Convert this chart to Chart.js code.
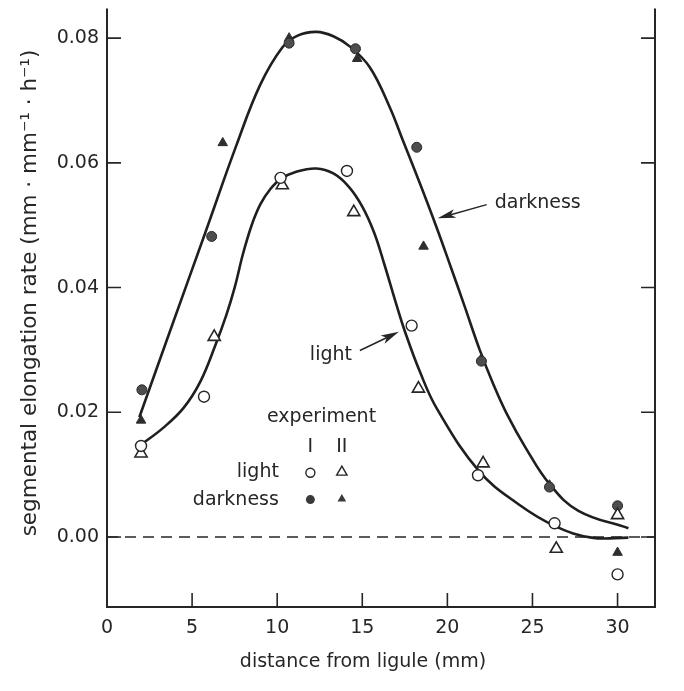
<!DOCTYPE html>
<html>
<head>
<meta charset="utf-8">
<script src="https://cdn.jsdelivr.net/npm/chart.js@4.4.0/dist/chart.umd.min.js"></script>
<style>
  html, body { margin: 0; padding: 0; background: #fff; }
</style>
</head>
<body>
<canvas id="elongation" width="684" height="691"></canvas>
<script>
var xTicks = [0, 5, 10, 15, 20, 25, 30]
var yTicks = [0, 0.02, 0.04, 0.06, 0.08]
var yTickLabels = ["0.00", "0.02", "0.04", "0.06", "0.08"]

// experiment I, light (open circles)
var lightIX = [2.0, 5.7, 10.2, 14.1, 17.9, 21.8, 26.3, 30.0]
var lightIY = [0.0146, 0.0225, 0.0576, 0.0587, 0.0339, 0.0099, 0.0022, -0.0060]
// experiment II, light (open triangles)
var lightIIX = [2.0, 6.3, 10.3, 14.5, 18.3, 22.1, 26.4, 30.0]
var lightIIY = [0.0134, 0.0321, 0.0564, 0.0521, 0.0238, 0.0118, -0.0019, 0.0035]
// experiment I, darkness (filled circles)
var darkIX = [2.05, 6.15, 10.7, 14.6, 18.2, 22.0, 26.0, 30.0]
var darkIY = [0.0236, 0.0482, 0.0792, 0.0783, 0.0625, 0.0282, 0.0080, 0.0050]
// experiment II, darkness (filled triangles)
var darkIIX = [2.0, 6.8, 10.7, 14.7, 18.6, 22.0, 26.0, 30.0]
var darkIIY = [0.0187, 0.0632, 0.0800, 0.0767, 0.0466, 0.0286, 0.0083, -0.0025]

// hand drawn curves
var darkCurveX = [1.9, 3.7, 5.8, 7.6, 9.0, 10.3, 11.2, 12.3, 13.3, 14.3, 15.45, 16.6, 17.4, 18.4, 19.4, 20.2, 21.0, 21.9, 22.7, 23.5, 24.6, 26.0, 27.7, 30.64]
var darkCurveY = [0.0192, 0.0330, 0.0490, 0.0628, 0.0725, 0.0785, 0.0804, 0.0810, 0.0803, 0.0786, 0.0753, 0.0690, 0.0635, 0.0566, 0.0494, 0.0433, 0.0371, 0.0300, 0.0245, 0.0197, 0.0143, 0.0085, 0.0042, 0.0014]
var lightCurveX = [1.95, 3.3, 4.5, 5.5, 6.4, 7.0, 7.5, 8.0, 8.5, 9.0, 9.6, 10.2, 11.16, 12.3, 13.3, 14.2, 15.0, 15.7, 16.3, 17.0, 17.5, 18.4, 19.4, 21.85, 24.2, 26.36, 28.47, 30.64]
var lightCurveY = [0.0147, 0.0175, 0.0207, 0.0250, 0.0310, 0.0355, 0.0400, 0.0455, 0.0500, 0.0533, 0.0558, 0.0574, 0.0586, 0.0591, 0.0583, 0.0562, 0.0530, 0.0488, 0.0437, 0.0373, 0.0330, 0.0264, 0.0205, 0.0106, 0.0052, 0.0017, -0.0001, -0.0001]

var zeroX = [0, 32.2]
var zeroY = [0, 0]

var ink = "#262626"
var fontFamily = '"DejaVu Sans", "Liberation Sans", sans-serif'

function pts(xs, ys) {
  return xs.map(function(x, i) { return {x: x, y: ys[i]} })
}

function arrow(ctx, x1, y1, x2, y2) {
  var a = Math.atan2(y2 - y1, x2 - x1)
  var len = 18, hw = 4.5
  ctx.beginPath()
  ctx.moveTo(x1, y1)
  ctx.lineTo(x2 - Math.cos(a) * len * 0.6, y2 - Math.sin(a) * len * 0.6)
  ctx.stroke()
  ctx.beginPath()
  ctx.moveTo(x2, y2)
  ctx.lineTo(x2 - Math.cos(a) * len - Math.sin(a) * hw, y2 - Math.sin(a) * len + Math.cos(a) * hw)
  ctx.lineTo(x2 - Math.cos(a) * len * 0.75, y2 - Math.sin(a) * len * 0.75)
  ctx.lineTo(x2 - Math.cos(a) * len + Math.sin(a) * hw, y2 - Math.sin(a) * len - Math.cos(a) * hw)
  ctx.closePath()
  ctx.fill()
}

function triangle(ctx, x, y, r) {
  ctx.beginPath()
  ctx.moveTo(x, y - r)
  ctx.lineTo(x + r * 0.866, y + r * 0.5)
  ctx.lineTo(x - r * 0.866, y + r * 0.5)
  ctx.closePath()
}

var framePlugin = {
  id: "frame",
  beforeDatasetsDraw: function(chart) {
    var ctx = chart.ctx, a = chart.chartArea
    var xs = chart.scales.x, ys = chart.scales.y
    ctx.save()
    ctx.strokeStyle = ink
    ctx.lineWidth = 2
    ctx.beginPath()
    ctx.moveTo(a.left, a.top)
    ctx.lineTo(a.left, a.bottom)
    ctx.lineTo(a.right, a.bottom)
    ctx.lineTo(a.right, a.top)
    ctx.stroke()
    ctx.lineWidth = 1.6
    yTicks.forEach(function(v) {
      var py = ys.getPixelForValue(v)
      ctx.beginPath()
      ctx.moveTo(a.left, py); ctx.lineTo(a.left + 14, py)
      ctx.moveTo(a.right, py); ctx.lineTo(a.right - 14, py)
      ctx.stroke()
    })
    xTicks.forEach(function(v) {
      if (v === 0) return
      var px = xs.getPixelForValue(v)
      ctx.beginPath()
      ctx.moveTo(px, a.bottom); ctx.lineTo(px, a.bottom - 14)
      ctx.stroke()
    })
    ctx.restore()
  },
  afterDraw: function(chart) {
    var ctx = chart.ctx, a = chart.chartArea
    var xs = chart.scales.x, ys = chart.scales.y
    function X(v) { return xs.getPixelForValue(v) }
    function Y(v) { return ys.getPixelForValue(v) }
    ctx.save()
    ctx.fillStyle = ink
    ctx.strokeStyle = ink

    // axis titles
    ctx.font = "19px " + fontFamily
    ctx.textAlign = "center"
    ctx.textBaseline = "alphabetic"
    ctx.fillText("distance from ligule (mm)", 363, 667)
    ctx.save()
    ctx.font = "21.5px " + fontFamily
    ctx.translate(36, 293)
    ctx.rotate(-Math.PI / 2)
    ctx.fillText("segmental elongation rate (mm · mm⁻¹ · h⁻¹)", 0, 0)
    ctx.restore()

    // curve labels with arrows
    ctx.font = "19px " + fontFamily
    ctx.textAlign = "left"
    ctx.textBaseline = "middle"
    ctx.fillText("darkness", X(22.78), Y(0.0536))
    ctx.fillText("light", X(11.92), Y(0.0291))
    ctx.lineWidth = 1.5
    arrow(ctx, X(22.31), Y(0.0533), X(19.43), Y(0.0511))
    arrow(ctx, X(14.86), Y(0.0299), X(17.15), Y(0.0329))

    // key
    ctx.textBaseline = "alphabetic"
    ctx.fillText("experiment", X(9.4), Y(0.0185))
    ctx.textAlign = "center"
    ctx.fillText("I", X(11.95), Y(0.0136))
    ctx.fillText("II", X(13.8), Y(0.0136))
    ctx.textAlign = "right"
    ctx.fillText("light", X(10.1), Y(0.0096))
    ctx.fillText("darkness", X(10.1), Y(0.0052))

    ctx.lineWidth = 1.4
    ctx.beginPath()
    ctx.arc(X(11.95), Y(0.0103), 4.5, 0, Math.PI * 2)
    ctx.fillStyle = "#fff"; ctx.fill(); ctx.stroke()
    triangle(ctx, X(13.8), Y(0.0104), 6)
    ctx.fill(); ctx.stroke()
    ctx.fillStyle = "#3a3a3a"
    ctx.beginPath()
    ctx.arc(X(11.95), Y(0.0060), 4.5, 0, Math.PI * 2)
    ctx.fill()
    triangle(ctx, X(13.8), Y(0.0061), 5)
    ctx.fill()
    ctx.restore()
  }
}

var ctx = document.getElementById("elongation").getContext("2d")

var chartData = {
  type: "scatter",
  data: {
    datasets: [
      {
        label: "light I", data: pts(lightIX, lightIY), order: 1,
        pointStyle: "circle", pointRadius: 5.5, borderWidth: 1.4,
        borderColor: ink, backgroundColor: "#fff"
      },
      {
        label: "light II", data: pts(lightIIX, lightIIY), order: 1,
        pointStyle: "triangle", pointRadius: 7, borderWidth: 1.6,
        borderColor: ink, backgroundColor: "#fff"
      },
      {
        label: "darkness I", data: pts(darkIX, darkIY), order: 1,
        pointStyle: "circle", pointRadius: 5, borderWidth: 1,
        borderColor: "#2a2a2a", backgroundColor: "#4d4d4d"
      },
      {
        label: "darkness II", data: pts(darkIIX, darkIIY), order: 1,
        pointStyle: "triangle", pointRadius: 5.5, borderWidth: 1,
        borderColor: "#2e2e2e", backgroundColor: "#2e2e2e"
      },
      {
        label: "darkness curve", data: pts(darkCurveX, darkCurveY), order: 2,
        showLine: true, pointRadius: 0, borderColor: "#1f1f1f", borderWidth: 2.6,
        tension: 0.4
      },
      {
        label: "light curve", data: pts(lightCurveX, lightCurveY), order: 2,
        showLine: true, pointRadius: 0, borderColor: "#1f1f1f", borderWidth: 2.6,
        tension: 0.4
      },
      {
        label: "zero", data: pts(zeroX, zeroY), order: 3,
        showLine: true, pointRadius: 0, borderColor: ink, borderWidth: 1.5,
        borderDash: [11, 7]
      }
    ]
  },
  options: {
    responsive: false,
    animation: false,
    layout: { padding: { left: 0, right: 29, top: 0, bottom: 0 } },
    plugins: { legend: { display: false }, tooltip: { enabled: false } },
    scales: {
      x: {
        type: "linear", min: 0, max: 32.2,
        grid: { display: false, drawTicks: false },
        border: { display: false },
        ticks: { padding: 10, color: ink, maxRotation: 0, font: { family: fontFamily, size: 19 } },
        afterBuildTicks: function(s) { s.ticks = xTicks.map(function(v) { return {value: v} }) },
        afterFit: function(s) { s.height = 84; s.paddingLeft = 0; s.paddingRight = 0 }
      },
      y: {
        type: "linear", min: -0.01123, max: 0.08474,
        grid: { display: false, drawTicks: false },
        border: { display: false },
        ticks: {
          padding: 8, color: ink, font: { family: fontFamily, size: 19 },
          callback: function(v) { return yTickLabels[yTicks.indexOf(v)] }
        },
        afterBuildTicks: function(s) { s.ticks = yTicks.map(function(v) { return {value: v} }) },
        afterFit: function(s) { s.width = 107; s.paddingTop = 0; s.paddingBottom = 0 }
      }
    }
  },
  plugins: [framePlugin]
}

var elongationChart = new Chart(ctx, chartData)
</script>
</body>
</html>
